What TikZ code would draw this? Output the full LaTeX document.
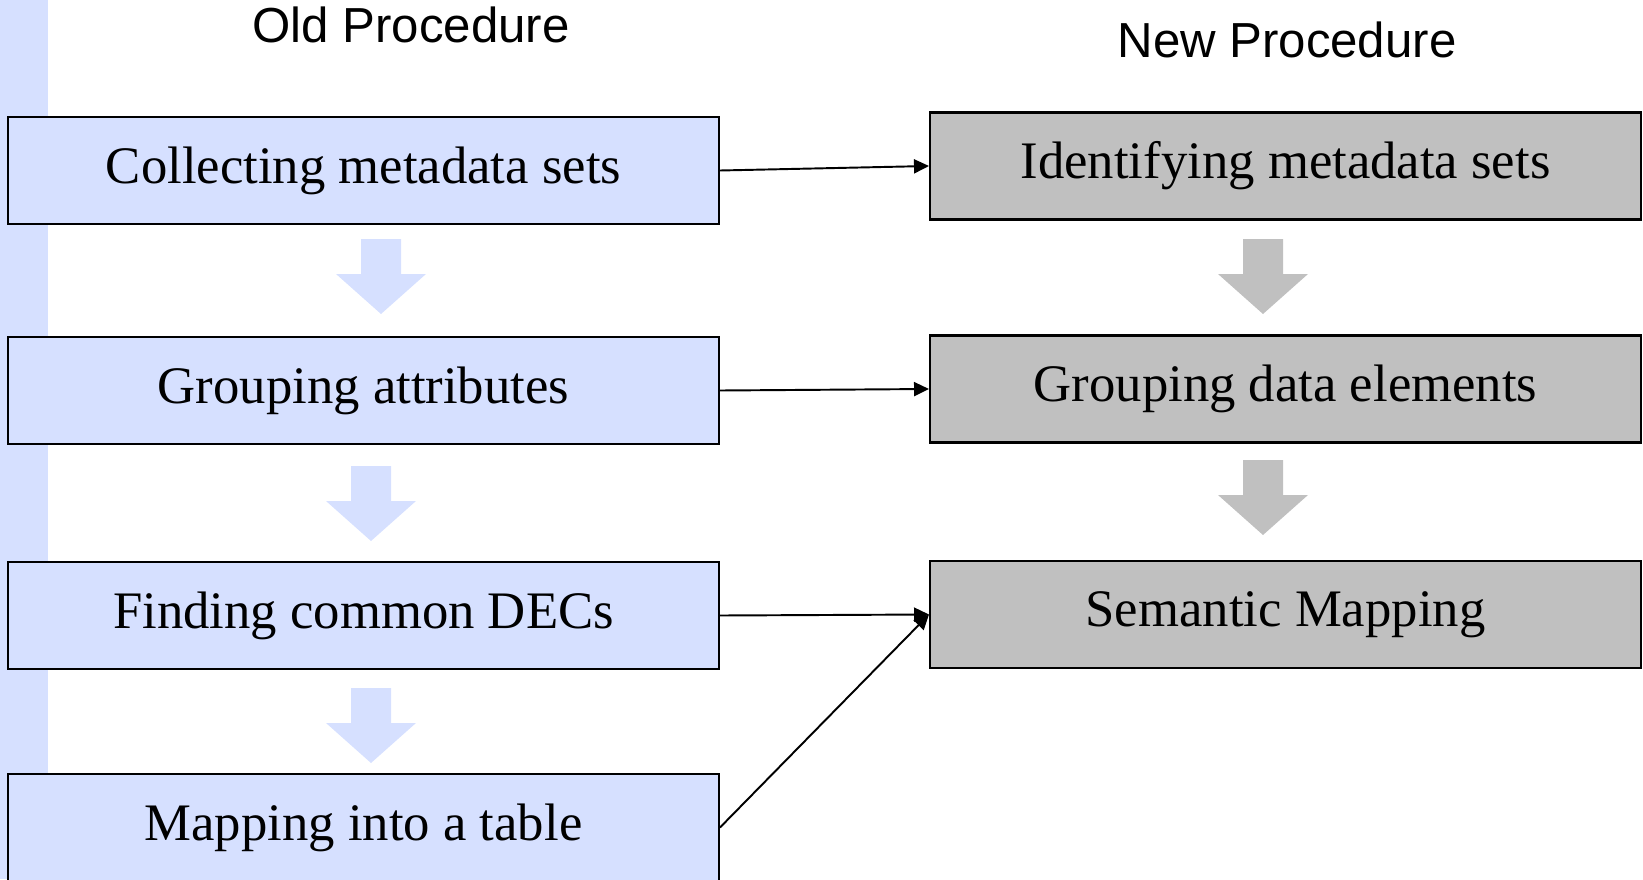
\documentclass[tikz,border=0pt]{standalone}
\usepackage{fontspec}
\setmainfont{Liberation Serif}
\newfontfamily\titlefont{Liberation Sans}
\usetikzlibrary{arrows.meta}

\definecolor{oldblue}{RGB}{214,224,255}
\definecolor{newgray}{RGB}{192,192,192}

\begin{document}
\begin{tikzpicture}[x=0.02cm, y=-0.02cm,
        stepbox/.style={draw, line width=1.2pt,
            minimum width=14.22cm,
            minimum height=2.14cm,
            inner sep=0pt,
            font=\fontsize{30}{36}\selectfont},
        oldbox/.style={stepbox, fill=oldblue},
        newbox/.style={stepbox, fill=newgray},
        link/.style={line width=1.1pt, -{Triangle[length=0.3cm, width=0.28cm]}},
        title/.style={font=\titlefont\fontsize{28}{34}\selectfont, anchor=base}]
        \useasboundingbox (0,0) rectangle (1643,879);
        \clip (0,0) rectangle (1643,879);
        \fill[oldblue] (0,0) rectangle (48,879);
        \draw (411,42) node(oldtitle) [title] {Old Procedure};
        \draw (1287,57) node(newtitle) [title] {New Procedure};
        \draw (363.5,170.5) node(collect) [oldbox] {Collecting metadata sets};
        \draw (363.5,390.5) node(groupattr) [oldbox] {Grouping attributes};
        \draw (363.5,615.5) node(finddec) [oldbox] {Finding common DECs};
        \draw (363.5,827.5) node(maptable) [oldbox] {Mapping into a table};
        \draw (1285.5,166) node(identify) [newbox] {Identifying metadata sets};
        \draw (1285.5,389) node(groupdata) [newbox] {Grouping data elements};
        \draw (1285.5,614.5) node(semantic) [newbox] {Semantic Mapping};
        \foreach \x/\y/\c in {381/239/oldblue, 371/466/oldblue, 371/688/oldblue,
                1263/239/newgray, 1263/460/newgray}
            \fill[\c] (\x-20,\y) -- (\x+20,\y) -- (\x+20,\y+35) -- (\x+45,\y+35)
                -- (\x,\y+75) -- (\x-45,\y+35) -- (\x-20,\y+35) -- cycle;
        \draw[link] (collect.east) -- (identify.west);
        \draw[link] (groupattr.east) -- (groupdata.west);
        \draw[link] (finddec.east) -- (semantic.west);
        \draw[link] (maptable.east) -- (semantic.west);
    \end{tikzpicture}
\end{document}
